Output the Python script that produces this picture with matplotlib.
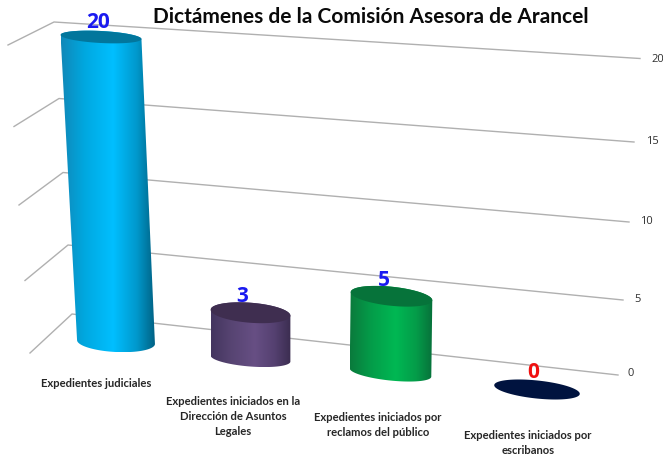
import numpy as np
import matplotlib
matplotlib.use("Agg")
import matplotlib.pyplot as plt
from matplotlib.colors import LinearSegmentedColormap
from matplotlib.patches import Polygon

# ---- data ----
categories = ["Expedientes judiciales",
              "Expedientes iniciados en la\nDirección de Asuntos\nLegales",
              "Expedientes iniciados por\nreclamos del público",
              "Expedientes iniciados por\nescribanos"]
values = [20, 3, 5, 0]
ticks = [0, 5, 10, 15, 20]
title = "Dictámenes de la Comisión Asesora de Arancel"

# ---- picture geometry (pixels), the 3D look of the original ----
W, H = 663, 458
wall_front = [(30, 353), (25, 280.5), (19, 205), (14, 126.5), (8, 45)]
wall_corner = [(72, 314), (68, 245), (63, 172.5), (59, 98.5), (54, 22)]
wall_right = [(618, 375), (623, 300), (629, 222), (634, 142), (640, 58.5)]
tick_xy = [(628, 374), (634, 300), (640, 222), (646, 142), (651, 59)]

base_x = [116, 250.5, 390.5, 537]
base_y = [342, 358.5, 372.5, 389.5]
px_per_unit = 15.25
lean = [-0.75, 0.0, 0.2, 0.0]
half_w = [39, 40, 41, 43]
ry_top = [6, 10, 9.5, 9]
ry_base = [10, 8, 8, 9]
tilt = [3, 4.5, 6, 6]
label_xy = [(98, 22), (242, 296), (384, 281), (533, 373)]
label_colors = ["#1A1AF0", "#1A1AF0", "#1A1AF0", "#F01010"]
cat_xy = [(96, 383), (233, 401), (378, 417), (528, 435)]
body_stops = [
    ["#1088B8", "#00A8E0", "#00BFFF", "#0098CC", "#005F80"],
    ["#43355F", "#574472", "#674F84", "#544070", "#3B2D50"],
    ["#0A7A3C", "#049C49", "#00B853", "#049C49", "#07703A"],
    ["#00133F"] * 5,
]
top_colors = ["#02769C", "#3F2E50", "#06733A", "#00133F"]
stop_pos = [0, 0.25, 0.55, 0.8, 1]


def ellipse(cx, cy, a, b, deg, t):
    r = np.radians(deg)
    x, y = a * np.cos(t), b * np.sin(t)
    return np.c_[cx + x * np.cos(r) - y * np.sin(r),
                 cy + x * np.sin(r) + y * np.cos(r)]


fig = plt.figure(figsize=(W / 100, H / 100), dpi=100, facecolor="white")
ax = fig.add_axes([0, 0, 1, 1])
ax.axis("off")

# gridlines on side and back walls
for f, c, r, t, xy in zip(wall_front, wall_corner, wall_right, ticks, tick_xy):
    ax.plot([f[0], c[0], r[0]], [f[1], c[1], r[1]], color="#B0B0B0", lw=1.0, zorder=1)
    ax.text(xy[0], xy[1], str(t), fontsize=8, family="Open Sans", color="#303030",
            ha="left", va="center", zorder=5, clip_on=False)

# cylinders
for i, v in enumerate(values):
    cx, cy = base_x[i], base_y[i]
    tx, ty = cx + lean[i] * v, cy - px_per_unit * v
    a_top = half_w[i] + (1.5 if i == 0 else 0)
    if v > 0:
        low = ellipse(cx, cy, half_w[i], ry_base[i], tilt[i], np.linspace(0, np.pi, 60))
        up = ellipse(tx, ty, a_top, ry_top[i], tilt[i], np.linspace(np.pi, 2 * np.pi, 60))
        body = Polygon(np.r_[low, up], closed=True, fc="none", ec="none", zorder=3)
        ax.add_patch(body)
        cmap = LinearSegmentedColormap.from_list("c", list(zip(stop_pos, body_stops[i])))
        x0 = min(low[:, 0].min(), up[:, 0].min())
        x1 = max(low[:, 0].max(), up[:, 0].max())
        y0 = up[:, 1].min()
        y1 = low[:, 1].max()
        im = ax.imshow(np.linspace(0, 1, 256)[None, :], cmap=cmap, aspect="auto",
                       extent=(x0, x1, y1, y0), zorder=3, interpolation="bilinear")
        im.set_clip_path(body)
    top = ellipse(tx, ty, a_top, ry_top[i], tilt[i], np.linspace(0, 2 * np.pi, 120))
    ax.add_patch(Polygon(top, closed=True, fc=top_colors[i], ec="none", zorder=4))
    ax.text(label_xy[i][0], label_xy[i][1], str(v), fontsize=15, fontweight="bold",
            family="Open Sans", color=label_colors[i], ha="center", va="center", zorder=6)
    ax.text(cat_xy[i][0], cat_xy[i][1] - 5, categories[i], fontsize=8.1, fontweight="bold",
            family="Lato", color="#262626", ha="center", va="top",
            linespacing=1.45, zorder=6)

ax.text(371, 17, title, fontsize=15, fontweight="bold", family="Lato",
        color="#0A0A0A", ha="center", va="center", zorder=6)

ax.set_xlim(0, W)
ax.set_ylim(H, 0)
fig.savefig("out.png", dpi=100, facecolor="white")
